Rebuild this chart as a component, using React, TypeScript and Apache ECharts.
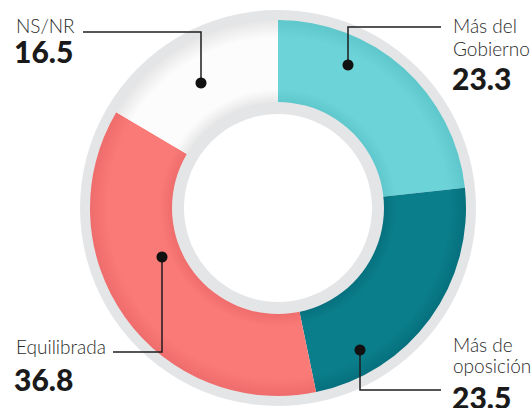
import React, { useEffect, useRef } from 'react';
import * as echarts from 'echarts';

const categories = ['Más del Gobierno', 'Más de oposición', 'Equilibrada', 'NS/NR'];
const values = [23.3, 23.5, 36.8, 16.5];
const labelLines = [['Más del', 'Gobierno'], ['Más de', 'oposición'], ['Equilibrada'], ['NS/NR']];

const CX = 278;
const CY = 208;
const R_OUT = 198;

function grad(edge: string, mid: string) {
  return new echarts.graphic.RadialGradient(CX, CY, R_OUT, [
    { offset: 0.53, color: edge },
    { offset: 0.6, color: mid },
    { offset: 0.86, color: mid },
    { offset: 0.95, color: edge },
  ], true);
}

const sliceColors = [
  grad('#5ec7cb', '#6cd4d8'),
  grad('#06707d', '#0b7e8c'),
  grad('#ee6d6c', '#fa7a78'),
  grad('#e6e6e6', '#fcfcfc'),
];

export default function App() {
  const ref = useRef<HTMLDivElement>(null);
  useEffect(() => {
    if (!ref.current) return;
    const chart = echarts.init(ref.current, null, { renderer: 'svg' });
    const labelFont = { fontFamily: 'Lato', fontWeight: 300, fontSize: 19, lineHeight: 18, fill: '#2a2a2a' };
    const numFont = { fontFamily: 'Lato', fontWeight: 900, fontSize: 30, lineHeight: 20, fill: '#1a1a1a' };
    const lineStyle = { stroke: '#1e1e1e', lineWidth: 1.5, fill: 'none' };
    const dot = (x: number, y: number) => ({ type: 'circle', shape: { cx: x, cy: y, r: 5.5 }, style: { fill: '#111' }, z: 20 });
    const txt = (x: number, y: number, text: string, font: any) => ({
      type: 'text', x, y, z: 20,
      style: { ...font, text, align: 'left', verticalAlign: 'middle' },
    });
    const graphics: any[] = [
      { type: 'ring', shape: { cx: CX, cy: CY, r: R_OUT, r0: 187 }, style: { fill: '#e4e5e7' }, z: 0 },
      { type: 'ring', shape: { cx: CX, cy: CY, r: 106, r0: 94 }, style: { fill: '#e4e5e7' }, z: 10 },
      // NS/NR
      { type: 'polyline', shape: { points: [[83, 32], [201, 32], [201, 83]] }, style: lineStyle, z: 20 },
      dot(201, 83),
      txt(16, 25.5, labelLines[3][0], labelFont),
      txt(14, 51, values[3].toFixed(1), numFont),
      // Más del Gobierno
      { type: 'polyline', shape: { points: [[441, 27], [348, 27], [348, 65]] }, style: lineStyle, z: 20 },
      dot(348, 65),
      txt(453, 25.5, labelLines[0][0], labelFont),
      txt(453, 48.5, labelLines[0][1], labelFont),
      txt(452, 78, values[0].toFixed(1), numFont),
      // Equilibrada
      { type: 'polyline', shape: { points: [[113, 352], [162, 352], [162, 257]] }, style: lineStyle, z: 20 },
      dot(162, 257),
      txt(16, 346.5, labelLines[2][0], labelFont),
      txt(14, 379, values[2].toFixed(1), numFont),
      // Más de oposición
      { type: 'polyline', shape: { points: [[360, 350], [360, 390], [441, 390]] }, style: lineStyle, z: 20 },
      dot(360, 350),
      txt(453, 344.5, labelLines[1][0], labelFont),
      txt(453, 365.5, labelLines[1][1], labelFont),
      txt(452, 397, values[1].toFixed(1), numFont),
    ];
    chart.setOption({
      animation: false,
      series: [
        {
          type: 'pie',
          center: [CX, CY],
          radius: [105, 188],
          startAngle: 90,
          clockwise: true,
          silent: true,
          label: { show: false },
          labelLine: { show: false },
          emphasis: { disabled: true },
          data: categories.map((name, i) => ({ name, value: values[i], itemStyle: { color: sliceColors[i] } })),
        },
      ],
      graphic: graphics,
    });
    return () => chart.dispose();
  }, []);
  return <div ref={ref} style={{ position: 'absolute', left: 0, top: 0, width: 531, height: 408, background: '#fff' }} />;
}
